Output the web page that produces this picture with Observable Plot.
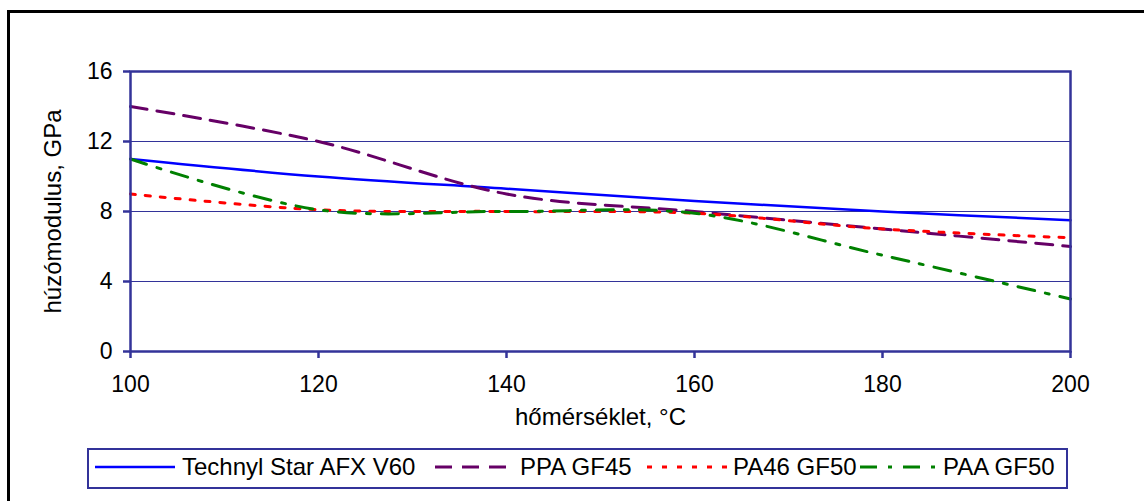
<!DOCTYPE html>
<html>
<head>
<meta charset="utf-8">
<script src="https://cdn.jsdelivr.net/npm/d3@7"></script>
<script src="https://cdn.jsdelivr.net/npm/@observablehq/plot@0.6"></script>
<style>
  html, body { margin: 0; padding: 0; background: white; overflow: hidden; }
  #wrap { position: relative; width: 1144px; height: 501px; overflow: hidden; background: white;
          font-family: "Liberation Sans", Arial, sans-serif; }
  #border { position: absolute; left: 7px; top: 10px; width: 1200px; height: 600px;
            border: 3px solid black; pointer-events: none; z-index: 5; }
  #chart { position: absolute; left: 0; top: 0; }
  #legend { position: absolute; left: 87px; top: 448px; width: 981px; height: 41px;
            box-sizing: border-box; border: 2px solid #333399; background: white; }
  #legend svg { position: absolute; left: -2px; top: -2px; overflow: visible; }
</style>
</head>
<body>
<div id="wrap">
  <div id="chart"></div>
  <div id="legend"></div>
  <div id="border"></div>
</div>
<script>
// ---- data ----
const temps = [100, 120, 140, 160, 180, 200];
const seriesNames = ["Technyl Star AFX V60", "PPA GF45", "PA46 GF50", "PAA GF50"];
const technyl = [11, 10, 9.3, 8.6, 8, 7.5];
const ppa = [14, 12, 9, 8, 7, 6];
const pa46 = [9, 8.1, 8, 7.9, 7, 6.5];
const paa = [11, 8.1, 8, 7.9, 5.5, 3];
const xTicks = [100, 120, 140, 160, 180, 200];
const yTicks = [0, 4, 8, 12, 16];
const xLabel = "hőmérséklet, °C";
const yLabel = "húzómodulus, GPa";

// ---- styles ----
const styles = [
  {stroke: "#0000ff", strokeWidth: 2.5, dash: null},
  {stroke: "#660066", strokeWidth: 3, dash: "17,10"},
  {stroke: "#ff0000", strokeWidth: 3, dash: "5,10"},
  {stroke: "#008000", strokeWidth: 3, dash: "17,11,4,11"}
];
const seriesValues = [technyl, ppa, pa46, paa];
const tables = seriesValues.map((vals, i) => temps.map((t, j) => ({x: t, y: vals[j], s: seriesNames[i]})));

const navy = "#333399";
const font = "'Liberation Sans', Arial, sans-serif";

const chart = Plot.plot({
  width: 1144,
  height: 440,
  marginTop: 71,
  marginLeft: 130,
  marginRight: 74,
  marginBottom: 89,
  style: {fontFamily: font, fontSize: "23px", color: "black", background: "white"},
  x: {domain: [100, 200]},
  y: {domain: [0, 16]},
  marks: [
    Plot.ruleY(yTicks.slice(1, -1), {stroke: navy, strokeWidth: 1}),
    ...tables.map((tb, i) => Plot.line(tb, {
      x: "x", y: "y",
      stroke: styles[i].stroke,
      strokeWidth: styles[i].strokeWidth,
      strokeDasharray: styles[i].dash,
      curve: "catmull-rom"
    })),
    Plot.frame({stroke: navy, strokeWidth: 2.5}),
    Plot.axisY({ticks: yTicks, tickSize: 7, tickPadding: 11, fontSize: 23, stroke: navy, strokeWidth: 2.5, label: null, tickFormat: d => String(d)}),
    Plot.axisX({ticks: xTicks, tickSize: 7, tickPadding: 17, fontSize: 23, stroke: navy, strokeWidth: 2.5, label: null, tickFormat: d => String(d)}),
    Plot.text([xLabel], {frameAnchor: "bottom", dy: 73, fontSize: 24, text: d => d}),
    Plot.text([yLabel], {frameAnchor: "left", dx: -77, rotate: -90, textAnchor: "middle", fontSize: 24, text: d => d})
  ]
});
document.getElementById("chart").appendChild(chart);

// ---- legend ----
const legendLayout = [
  {x1: 95, x2: 175, tx: 182},
  {x1: 435, x2: 507, tx: 520},
  {x1: 647, x2: 728, tx: 733},
  {x1: 860, x2: 935, tx: 943}
];
const offX = 87, offY = 448;
const lsvg = d3.select("#legend").append("svg")
  .attr("width", 981).attr("height", 41);
seriesNames.forEach((name, i) => {
  const L = legendLayout[i], st = styles[i];
  const cy = 467 - offY;
  lsvg.append("line")
    .attr("x1", L.x1 - offX).attr("x2", L.x2 - offX)
    .attr("y1", cy).attr("y2", cy)
    .attr("stroke", st.stroke).attr("stroke-width", st.strokeWidth)
    .attr("stroke-dasharray", st.dash);
  lsvg.append("text")
    .attr("x", L.tx - offX).attr("y", cy).attr("dy", "0.35em")
    .attr("font-family", font).attr("font-size", 24).attr("fill", "black")
    .text(name);
});
</script>
</body>
</html>
